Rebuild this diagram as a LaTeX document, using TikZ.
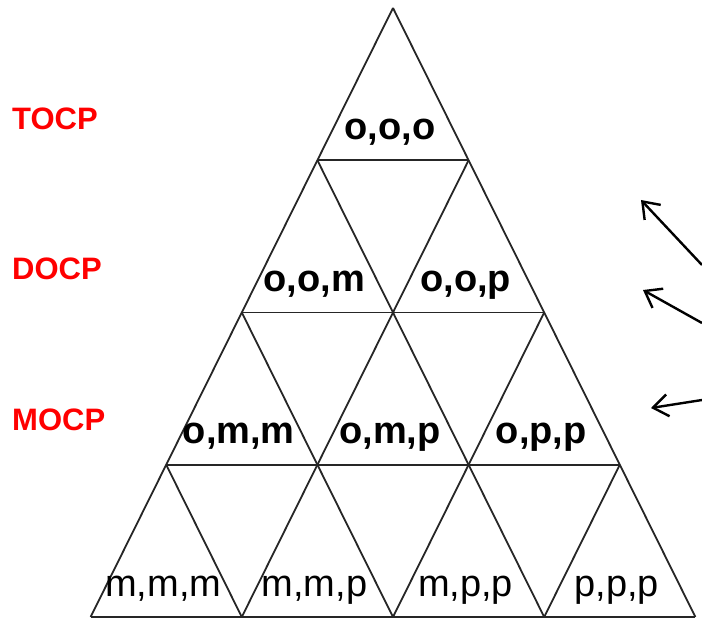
\documentclass[tikz,border=0pt]{standalone}
\usepackage{fontspec}
\setmainfont{Liberation Sans}
\usetikzlibrary{arrows.meta}
\definecolor{levelred}{RGB}{255,0,0}
\begin{document}
\begin{tikzpicture}[x=1pt, y=-1pt, >={Straight Barb[length=15pt,width=22pt]},
	grid line/.style={line width=1.8pt, draw=black!85},
	pointer/.style={->, line width=2.4pt},
	cell/.style={font=\fontsize{38}{40}\selectfont, anchor=base, inner sep=0pt, xshift=-3pt, yshift=21pt},
	cell bold/.style={cell, font=\fontsize{38}{40}\selectfont\bfseries},
	level/.style={font=\fontsize{31}{33}\selectfont\bfseries, text=levelred, anchor=base west, inner sep=0pt}]

			\useasboundingbox (0,0) rectangle (702,620);

			% --- TRIANGLE : (i,k) = sommet i de la rangee k ---
			\begin{scope}[shift={(393,8)}, x={(151.2pt,0pt)}, y={(-75.6pt,-152.25pt)}]
				% Horizontales
				\draw[grid line] (0,1) -- (1,1);
				\draw[grid line] (0,2) -- (2,2);
				\draw[grid line] (0,3) -- (3,3);
				\draw[grid line] (0,4) -- (4,4);

				% Paralleles au cote gauche
				\draw[grid line] (0,0) -- (0,4);
				\draw[grid line] (1,1) -- (1,4);
				\draw[grid line] (2,2) -- (2,4);
				\draw[grid line] (3,3) -- (3,4);

				% Paralleles au cote droit
				\draw[grid line] (0,0) -- (4,4);
				\draw[grid line] (0,1) -- (3,4);
				\draw[grid line] (0,2) -- (2,4);
				\draw[grid line] (0,3) -- (1,4);

				% Etiquettes des cases
				\node[cell bold] (ooo) at (0.5,1) {o,o,o};
				\node[cell bold] (oom) at (0.5,2) {o,o,m};
				\node[cell bold] (oop) at (1.5,2) {o,o,p};
				\node[cell bold] (omm) at (0.5,3) {o,m,m};
				\node[cell bold] (omp) at (1.5,3) {o,m,p};
				\node[cell bold] (opp) at (2.5,3) {o,p,p};
				\node[cell] (mmm) at (0.5,4) {m,m,m};
				\node[cell] (mmp) at (1.5,4) {m,m,p};
				\node[cell] (mpp) at (2.5,4) {m,p,p};
				\node[cell] (ppp) at (3.5,4) {p,p,p};
			\end{scope}

			% --- NIVEAUX ---
			\node[level] (tocp) at (12,130) {TOCP};
			\node[level] (docp) at (12,280) {DOCP};
			\node[level] (mocp) at (12,431) {MOCP};

			% --- FLECHES ---
			\coordinate (tip1) at (641,200);
			\coordinate (tip2) at (643,290);
			\coordinate (tip3) at (651,408);
			\coordinate (tail1) at (702,265);
			\coordinate (tail2) at (702,323);
			\coordinate (tail3) at (702,400);
			\draw[pointer] (tail1) -- (tip1);
			\draw[pointer] (tail2) -- (tip2);
			\draw[pointer] (tail3) -- (tip3);
		\end{tikzpicture}
\end{document}
